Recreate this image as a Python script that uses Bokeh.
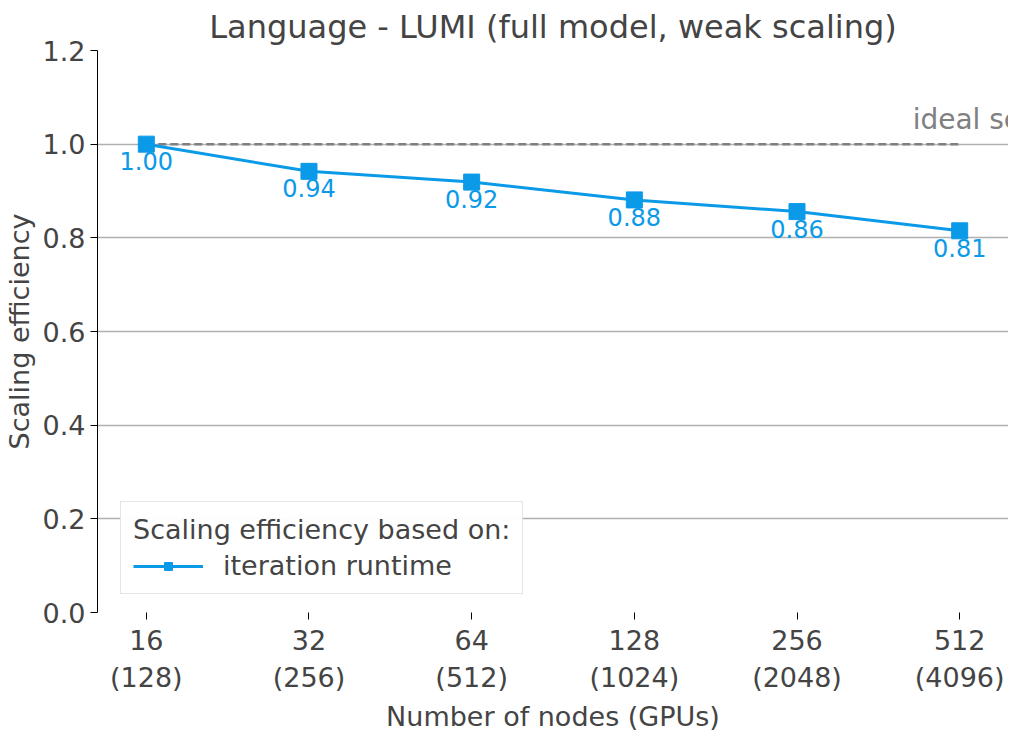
from bokeh.plotting import figure
from bokeh.models import Range1d, FixedTicker, Legend, LegendItem, ColumnDataSource, Label, NumeralTickFormatter
from bokeh.core.properties import value
from bokeh.embed import file_html
from bokeh.resources import INLINE

nodes = ["16", "32", "64", "128", "256", "512"]
gpus = ["128", "256", "512", "1024", "2048", "4096"]
efficiency = [1.00, 0.942, 0.919, 0.881, 0.856, 0.815]
eff_labels = ["1.00", "0.94", "0.92", "0.88", "0.86", "0.81"]
ideal = [1.0] * 6

F = "DejaVu Sans"
BLUE = "#0a9ae8"
xs = list(range(len(nodes)))

p = figure(width=1008, height=734, output_backend="svg", toolbar_location=None,
           x_range=Range1d(-0.3, 5.3), y_range=Range1d(0, 1.2),
           min_border_left=97, min_border_right=0, min_border_top=37, min_border_bottom=120)
p.outline_line_color = None
p.title.text = "Language - LUMI (full model, weak scaling)"
p.title.text_font = F
p.title.text_font_size = "32px"
p.title.text_font_style = "normal"
p.title.align = "center"
p.title.offset = 0

p.xaxis.ticker = FixedTicker(ticks=xs)
p.xaxis.major_label_overrides = {i: f"{n}\n({g})" for i, (n, g) in enumerate(zip(nodes, gpus))}
p.xaxis.axis_label = "Number of nodes (GPUs)"
p.yaxis.axis_label = "Scaling efficiency"
p.yaxis.ticker = FixedTicker(ticks=[0, 0.2, 0.4, 0.6, 0.8, 1.0, 1.2])
p.yaxis.formatter = NumeralTickFormatter(format="0.0")
for ax in (p.xaxis[0], p.yaxis[0]):
    ax.major_label_text_font = F
    ax.major_label_text_font_size = "27px"
    ax.axis_label_text_font = F
    ax.axis_label_text_font_size = "27px"
    ax.axis_label_text_font_style = "normal"
    ax.minor_tick_line_color = None
    ax.major_tick_in = 0
    ax.major_tick_out = 7
    ax.major_tick_line_color = "black"
p.xaxis.axis_line_color = None
p.yaxis.axis_line_color = "black"
p.xgrid.grid_line_color = None
p.ygrid.grid_line_color = "#b0b0b0"
p.ygrid.grid_line_width = 1.5

p.line(xs, ideal, line_color="#808080", line_dash="8 4", line_width=2.5)
p.add_layout(Label(x=990, x_units="screen", y=1.0, text="ideal scaling", text_align="right",
                   y_offset=8, text_font=F, text_font_size="28px", text_color="#808080"))

l = p.line(xs, efficiency, line_color=BLUE, line_width=3)
s = p.scatter(xs, efficiency, marker="square", size=16, color=BLUE)
src = ColumnDataSource(dict(x=xs, y=efficiency, t=eff_labels))
p.text("x", "y", text="t", source=src, text_align="center", text_baseline="top", y_offset=8,
       text_font=value(F), text_font_size="24px", text_color=BLUE)

leg = Legend(items=[LegendItem(label="iteration runtime", renderers=[l, s])],
             location=(23, 18), title="Scaling efficiency based on:")
leg.title_text_font = F
leg.title_text_font_size = "27px"
leg.title_text_font_style = "normal"
leg.label_text_font = F
leg.label_text_font_size = "27px"
leg.border_line_color = "#cccccc"
leg.border_line_width = 1.5
leg.padding = 12
leg.glyph_width = 70
leg.margin = 0
leg.label_standoff = 20
p.add_layout(leg, "center")

open("out.html", "w").write(file_html(p, INLINE))
